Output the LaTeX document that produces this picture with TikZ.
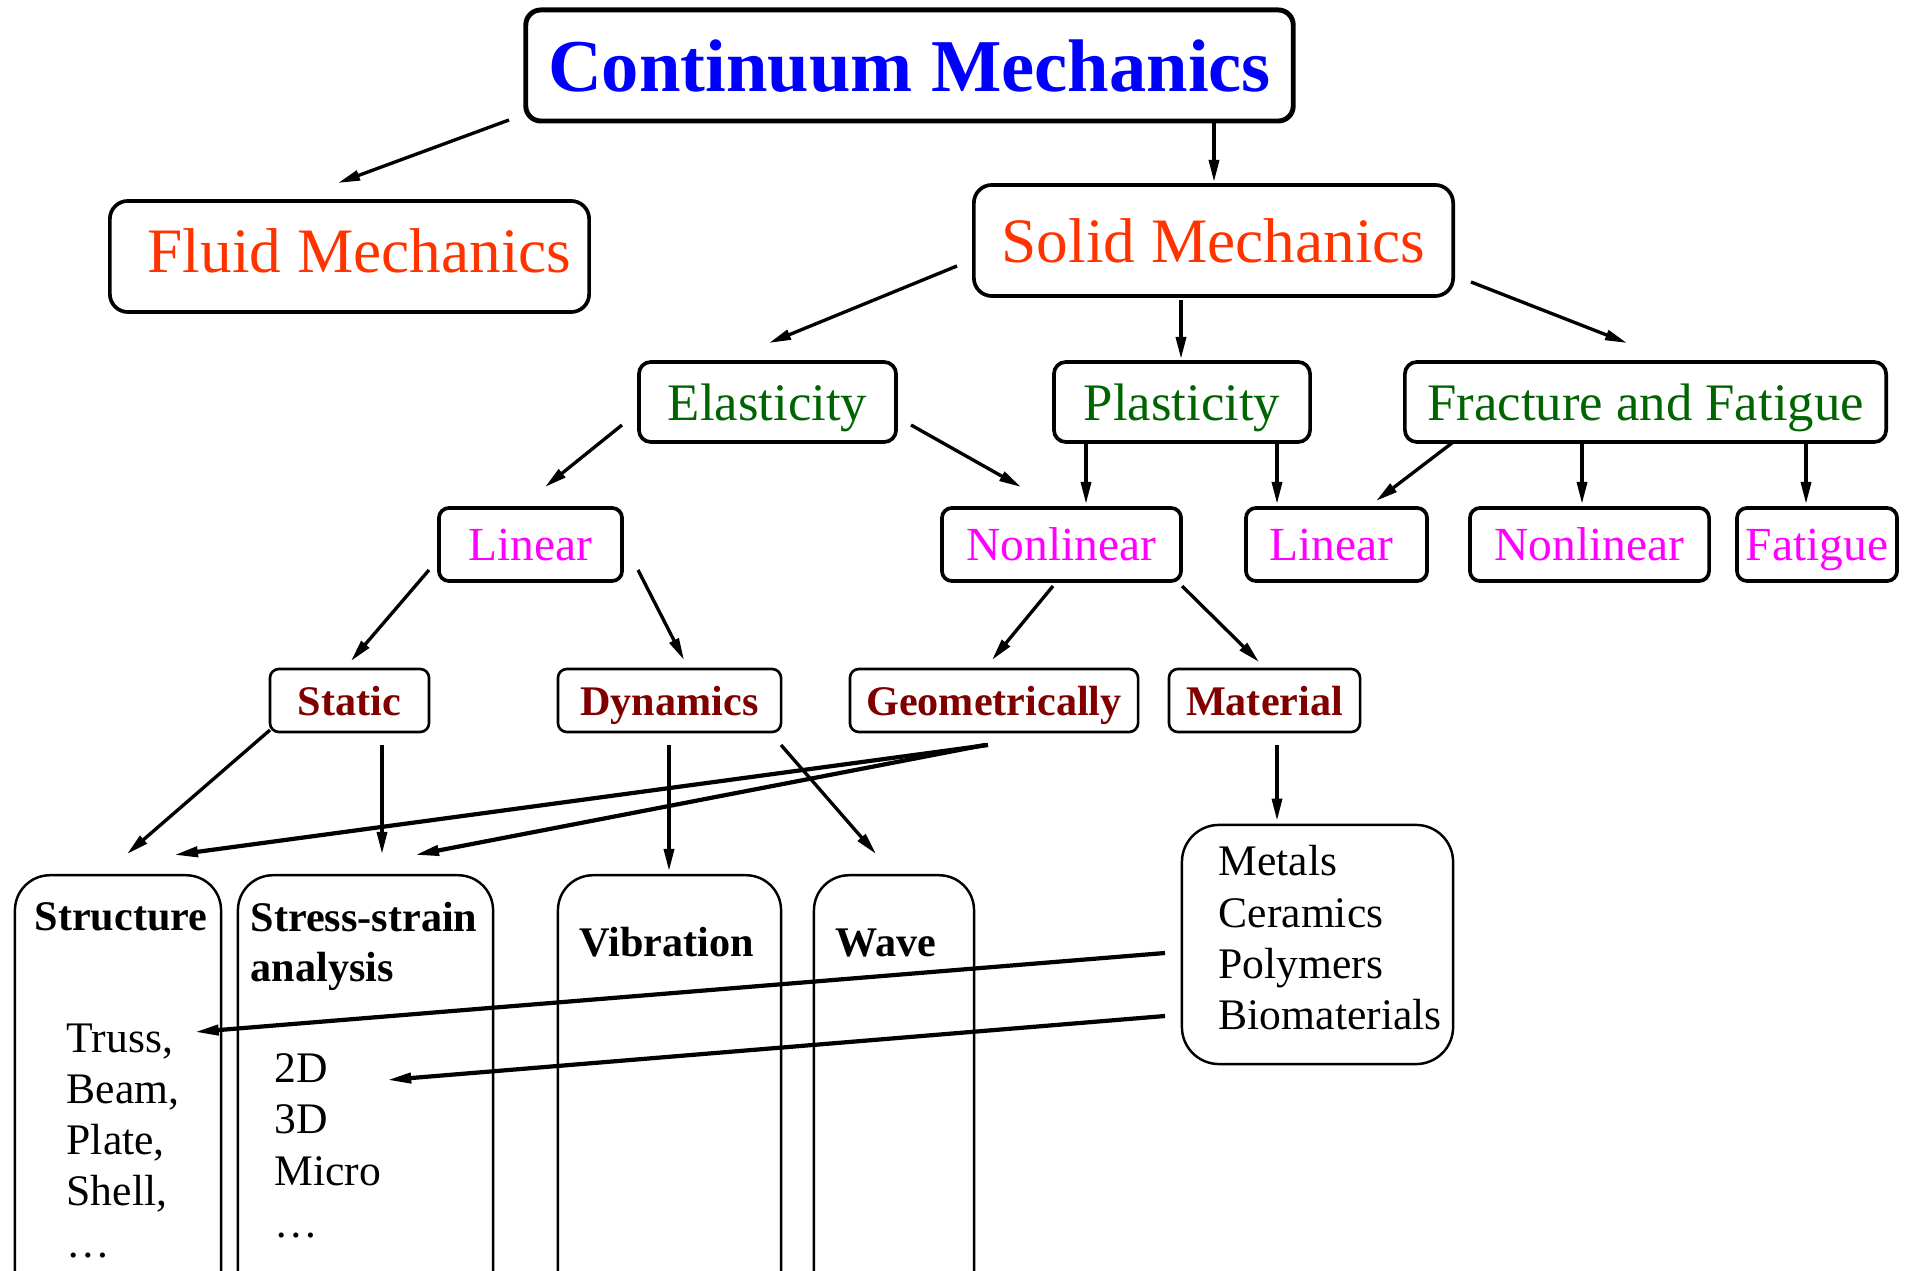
\documentclass[tikz,border=0pt]{standalone}
\usepackage{fontspec}
\setmainfont{Liberation Serif}
\usetikzlibrary{arrows.meta}
\definecolor{cmblue}{RGB}{0,0,255}
\definecolor{fluidred}{RGB}{255,51,0}
\definecolor{elgreen}{RGB}{0,100,0}
\definecolor{linmag}{RGB}{255,0,255}
\definecolor{stred}{RGB}{128,0,0}
\begin{document}
\begin{tikzpicture}[x=0.01cm,y=-0.01cm,
  box/.style={draw, text depth=0pt, inner sep=0pt},
  lone/.style={box, rounded corners=0.15cm, line width=1.4pt, text=cmblue,
    font=\fontsize{21.2}{25}\selectfont\bfseries, minimum height=1.11cm},
  ltwo/.style={box, rounded corners=0.18cm, line width=1.05pt, text=fluidred,
    font=\fontsize{18}{22}\selectfont, minimum height=1.11cm, minimum width=4.79cm},
  lthree/.style={box, rounded corners=0.12cm, line width=1.05pt, text=elgreen,
    font=\fontsize{15}{18}\selectfont, minimum height=0.80cm},
  lfour/.style={box, rounded corners=0.1cm, line width=1.05pt, text=linmag,
    font=\fontsize{13.5}{16}\selectfont, minimum height=0.73cm},
  lfive/.style={box, rounded corners=0.09cm, line width=0.75pt, text=stred,
    font=\fontsize{12}{14}\selectfont\bfseries, minimum height=0.63cm},
  tall/.style={draw, rounded corners=0.35cm, line width=0.7pt, anchor=north,
    minimum height=4.6cm, inner sep=0pt},
  blbl/.style={inner sep=0pt, font=\fontsize{12}{14}\selectfont\bfseries},
  rlbl/.style={inner sep=0pt, font=\fontsize{12.4}{14.6}\selectfont},
  arr/.style={-{Triangle[length=0.22cm,width=0.10cm]}, line width=0.95pt},
  tarr/.style={-{Triangle[length=0.24cm,width=0.10cm]}, line width=1.2pt}
]
\useasboundingbox (0,0) rectangle (1913,1271);
\clip (0,0) rectangle (1913,1271);

% level 1
\node[lone, minimum width=7.67cm] (cm) at (909.5,65.5) {Continuum Mechanics};
% level 2
\node[ltwo, text depth=0.12cm] (fluid) at (349.5,256.5) {\hspace*{0.2cm}Fluid Mechanics};
\node[ltwo] (solid) at (1213.5,240.5) {Solid Mechanics};
% level 3
\node[lthree, minimum width=2.57cm] (elast) at (767.5,402) {Elasticity};
\node[lthree, minimum width=2.56cm] (plast) at (1182,402) {Plasticity};
\node[lthree, minimum width=4.81cm] (fract) at (1645.5,402) {Fracture and Fatigue};
% level 4
\node[lfour, minimum width=1.83cm] (linL) at (530.5,544.5) {Linear};
\node[lfour, minimum width=2.39cm] (nonL) at (1061.5,544.5) {Nonlinear};
\node[lfour, minimum width=1.81cm] (linR) at (1336.5,544.5) {Linear\hspace*{0.1cm}};
\node[lfour, minimum width=2.39cm] (nonR) at (1589.5,544.5) {Nonlinear};
\node[lfour, minimum width=1.60cm] (fat) at (1817,544.5) {Fatigue};
% level 5
\node[lfive, minimum width=1.59cm] (stat) at (349.5,700.5) {Static};
\node[lfive, minimum width=2.23cm] (dyn) at (669.5,700.5) {Dynamics};
\node[lfive, minimum width=2.88cm] (geo) at (994,700.5) {Geometrically};
\node[lfive, minimum width=1.91cm] (mat) at (1264.5,700.5) {Material};
% tall boxes
\node[tall, minimum width=2.06cm] (struct) at (118,874) {};
\node[tall, minimum width=2.55cm] (stress) at (365.5,874) {};
\node[tall, minimum width=2.23cm] (vib) at (669.5,874) {};
\node[tall, minimum width=1.60cm] (wave) at (894,874) {};
\node[draw, rounded corners=0.37cm, line width=0.7pt, minimum width=2.71cm,
  minimum height=2.39cm, inner sep=0pt] (mats) at (1317.5,944.5) {};

% labels in tall boxes
\node[blbl, anchor=base] (structlbl) at (121,930) {Structure};
\node[blbl, anchor=base west] (sslblA) at (250,931) {Stress-strain};
\node[blbl, anchor=base west] (sslblB) at (250,981) {analysis};
\node[blbl, anchor=base] (viblbl) at (667,956) {Vibration};
\node[blbl, anchor=base west] (wavelbl) at (835,956) {Wave};

\foreach \t [count=\i] in {Truss{,}, Beam{,}, Plate{,}, Shell{,}, \dots}
  \node[rlbl, anchor=base west] (t\i) at (66,1052+51.3*\i-51.3) {\t};
\foreach \t [count=\i] in {2D, 3D, Micro, \dots}
  \node[rlbl, anchor=base west] (d\i) at (274,1082+51.7*\i-51.7) {\t};
\foreach \t [count=\i] in {Metals, Ceramics, Polymers, Biomaterials}
  \node[rlbl, anchor=base west] (m\i) at (1218,876+51.3*\i-51.3) {\t};

% connectors
\draw[arr] ([shift={(-400.5,54.5)}]cm.center) -- ([shift={(-11.5,-73.5)}]fluid.center);
\draw[arr] ([shift={(304.5,57.5)}]cm.center) -- ([shift={(0.5,-58.5)}]solid.center);
\draw[arr] ([shift={(-256.5,25.5)}]solid.center) -- ([shift={(1.5,-59)}]elast.center);
\draw[arr] ([shift={(-32.5,59.5)}]solid.center) -- ([shift={(-1,-43)}]plast.center);
\draw[arr] ([shift={(257.5,41.5)}]solid.center) -- ([shift={(-18.5,-59)}]fract.center);
\draw[arr] ([shift={(-145.5,23)}]elast.center) -- ([shift={(14.5,-57.5)}]linL.center);
\draw[arr] ([shift={(143.5,23)}]elast.center) -- ([shift={(-40.5,-57.5)}]nonL.center);
\draw[arr] ([shift={(-96,42)}]plast.center) -- ([shift={(24.5,-40.5)}]nonL.center);
\draw[arr] ([shift={(95,42)}]plast.center) -- ([shift={(-59.5,-40.5)}]linR.center);
\draw[arr] ([shift={(-193.5,41)}]fract.center) -- ([shift={(39.5,-43.5)}]linR.center);
\draw[arr] ([shift={(-63.5,42)}]fract.center) -- ([shift={(-7.5,-40.5)}]nonR.center);
\draw[arr] ([shift={(160.5,42)}]fract.center) -- ([shift={(-11,-40.5)}]fat.center);
\draw[arr] ([shift={(-101.5,25.5)}]linL.center) -- ([shift={(1.5,-39.5)}]stat.center);
\draw[arr] ([shift={(107.5,25.5)}]linL.center) -- ([shift={(14.5,-40.5)}]dyn.center);
\draw[arr] ([shift={(-8.5,41.5)}]nonL.center) -- ([shift={(-2,-40.5)}]geo.center);
\draw[arr] ([shift={(120.5,41.5)}]nonL.center) -- ([shift={(-5.5,-38.5)}]mat.center);
\draw[arr] ([shift={(-79.5,29.5)}]stat.center) -- ([shift={(9,-20)}]struct.north);
\draw[arr] ([shift={(32.5,44.5)}]stat.center) -- ([shift={(16.5,-20)}]stress.north);
\draw[arr] ([shift={(-0.5,44.5)}]dyn.center) -- ([shift={(-0.5,-3)}]vib.north);
\draw[arr] ([shift={(111.5,44.5)}]dyn.center) -- ([shift={(-18,-20)}]wave.north);
\draw[tarr] ([shift={(-6,44.5)}]geo.center) -- ([shift={(56,-19)}]struct.north);
\draw[tarr] ([shift={(-9,44.5)}]geo.center) -- ([shift={(49.5,-19)}]stress.north);
\draw[arr] ([shift={(12.5,44.5)}]mat.center) -- ([shift={(-40.5,-3)}]mats.north);
\draw[tarr] ([shift={(-152.5,8.5)}]mats.center) -- ([shift={(21,-20)}]t1.base east);
\draw[tarr] ([shift={(-152.5,71.5)}]mats.center) -- ([shift={(58.5,-2)}]d1.base east);
\end{tikzpicture}
\end{document}
